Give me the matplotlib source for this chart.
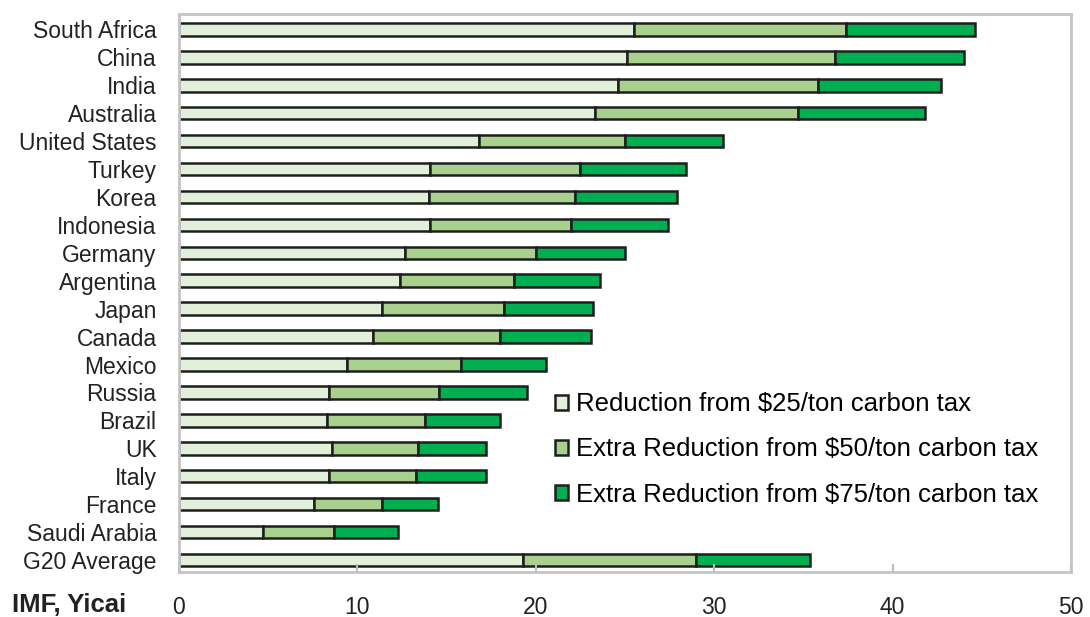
import matplotlib
matplotlib.use("Agg")
import matplotlib.pyplot as plt
import numpy as np

plt.rcParams["font.family"] = ["Liberation Sans", "DejaVu Sans"]

# Emissions reduction by carbon tax level (%), cumulative stacks
countries = [
    "South Africa", "China", "India", "Australia", "United States", "Turkey",
    "Korea", "Indonesia", "Germany", "Argentina", "Japan", "Canada", "Mexico",
    "Russia", "Brazil", "UK", "Italy", "France", "Saudi Arabia", "G20 Average",
]
tax_25 = [25.5, 25.1, 24.6, 23.3, 16.8, 14.1, 14.0, 14.1, 12.7, 12.4,
          11.4, 10.9, 9.4, 8.4, 8.3, 8.6, 8.4, 7.6, 4.7, 19.3]
extra_50 = [11.9, 11.7, 11.2, 11.4, 8.2, 8.4, 8.2, 7.9, 7.3, 6.4,
            6.8, 7.1, 6.4, 6.2, 5.5, 4.8, 4.9, 3.8, 4.0, 9.7]
extra_75 = [7.2, 7.2, 6.9, 7.1, 5.5, 5.9, 5.7, 5.4, 5.0, 4.8,
            5.0, 5.1, 4.8, 4.9, 4.2, 3.8, 3.9, 3.1, 3.6, 6.4]
series_labels = [
    "Reduction from $25/ton carbon tax",
    "Extra Reduction from $50/ton carbon tax",
    "Extra Reduction from $75/ton carbon tax",
]
colors = ["#E2F0D9", "#A9D18E", "#00B050"]

fig = plt.figure(figsize=(10.9, 6.17), dpi=100)
ax = fig.add_axes([0.164, 0.073, 0.8186, 0.9037])

y = np.arange(len(countries))
left = np.zeros(len(countries))
for vals, lab, col in zip([tax_25, extra_50, extra_75], series_labels, colors):
    ax.barh(y, vals, left=left, height=0.45, color=col, edgecolor="#1e1e1e",
            linewidth=1.8, label=lab)
    left = left + np.array(vals)

ax.set_xlim(0, 50)
ax.set_ylim(19.43, -0.54)
ax.set_xticks(range(0, 51, 10))
ax.set_yticks(y)
ax.set_yticklabels(countries, fontsize=16.5, color="#222222")
ax.tick_params(axis="y", length=0, pad=16)
ax.tick_params(axis="x", direction="in", length=6, width=1.5, color="#bbbbbb",
               pad=17, labelsize=16.5, labelcolor="#222222")
for sp in ax.spines.values():
    sp.set_color("#c4c4c4")
    sp.set_linewidth(2)

fig.text(0.011, 0.0195, "IMF, Yicai", fontsize=18.5, fontweight="bold",
         color="#222222", va="center", ha="left")

ax.legend(loc="upper left", bbox_to_anchor=(0.422, 0.322), frameon=False,
          fontsize=18.5, handlelength=0.5, handleheight=0.5, handletextpad=0.3,
          labelspacing=0.82, borderpad=0, borderaxespad=0)

fig.savefig("out.png", dpi=100)
